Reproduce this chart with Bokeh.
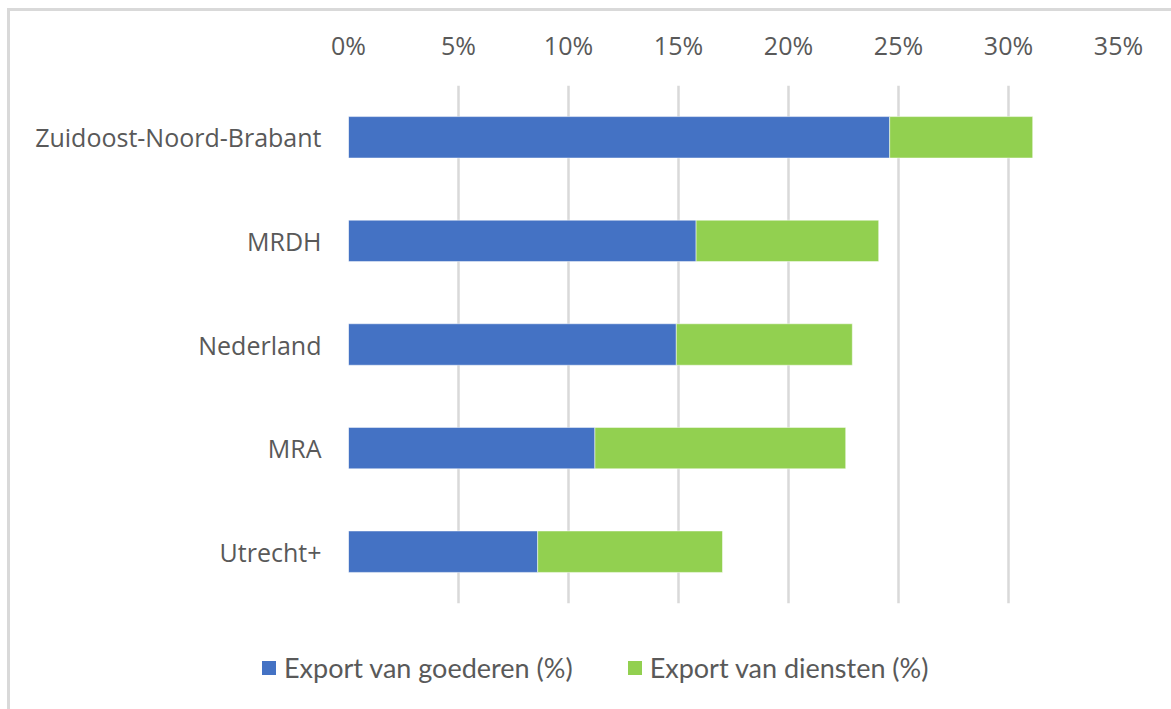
from bokeh.plotting import figure
from bokeh.models import ColumnDataSource, FactorRange, Range1d, NumeralTickFormatter, FixedTicker, Div
from bokeh.layouts import column
from bokeh.embed import file_html
from bokeh.resources import INLINE

regions = ["Zuidoost-Noord-Brabant", "MRDH", "Nederland", "MRA", "Utrecht+"]
goederen = [24.6, 15.8, 14.9, 11.2, 8.6]
diensten = [6.5, 8.3, 8.0, 11.4, 8.4]
series = ["Export van goederen (%)", "Export van diensten (%)"]
colors = ["#4472C4", "#92D050"]
ticks = [0, 5, 10, 15, 20, 25, 30, 35]

src = ColumnDataSource(dict(
    region=regions,
    goederen=[v / 100 for v in goederen],
    diensten=[v / 100 for v in diensten],
))

p = figure(
    width=1161, height=609,
    y_range=FactorRange(factors=list(reversed(regions))),
    x_range=Range1d(0, 0.35),
    x_axis_location="above",
    output_backend="svg", toolbar_location=None,
    min_border_left=338, min_border_right=53, min_border_top=74, min_border_bottom=17,
)
p.outline_line_color = None

rs = p.hbar_stack(["goederen", "diensten"], y="region", height=0.4, color=colors,
                  line_color="white", line_width=0.5, source=src)

p.xaxis.ticker = FixedTicker(ticks=[t / 100 for t in ticks])
p.xaxis.formatter = NumeralTickFormatter(format="0%")
for ax in (p.xaxis[0], p.yaxis[0]):
    ax.axis_line_color = None
    ax.major_tick_line_color = None
    ax.minor_tick_line_color = None
    ax.major_label_text_color = "#595959"
    ax.major_label_text_font = "Open Sans"
    ax.major_label_text_font_size = "25px"
p.xaxis.major_label_standoff = 18
p.yaxis.major_label_standoff = 21

p.ygrid.grid_line_color = None
p.xgrid.grid_line_color = "#d9d9d9"
p.xgrid.grid_line_width = 2.5

# legend strip below the chart
items_html = ""
for i, (lab, col) in enumerate(zip(series, colors)):
    ml = "0" if i == 0 else "55px"
    items_html += (
        f'<span style="display:inline-block;width:14px;height:14px;background:{col};'
        f'margin-left:{ml};margin-right:8px;vertical-align:middle;"></span>'
        f'<span style="vertical-align:middle;">{lab}</span>'
    )
legend_div = Div(
    text=f'<div style="padding-left:252px;padding-top:29px;line-height:32px;white-space:nowrap;'
         f'font-family:Lato;font-size:27px;color:#595959;">{items_html}</div>',
    width=1161, height=89, margin=0,
)

layout = column(p, legend_div, spacing=0, margin=(8, 0, 0, 7),
                styles={"border-top": "3px solid #d9d9d9", "border-left": "3px solid #d9d9d9"})
open("out.html", "w").write(file_html(layout, INLINE))
